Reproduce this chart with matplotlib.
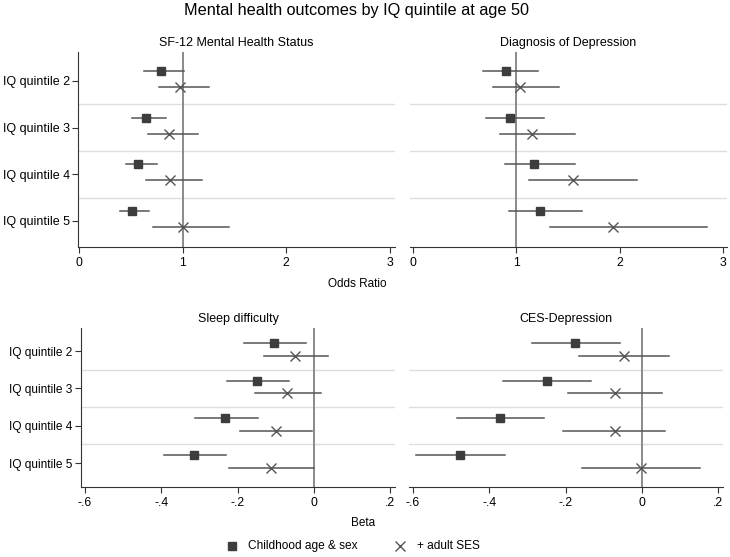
import matplotlib.pyplot as plt
from matplotlib.lines import Line2D

plt.rcParams['font.family'] = ['Liberation Sans', 'DejaVu Sans']

quintiles = ["IQ quintile 2", "IQ quintile 3", "IQ quintile 4", "IQ quintile 5"]

# SF-12 Mental Health Status (odds ratio)
sf12_base = [0.79, 0.65, 0.57, 0.51]
sf12_base_lo = [0.63, 0.51, 0.45, 0.40]
sf12_base_hi = [1.01, 0.84, 0.75, 0.68]
sf12_ses = [0.97, 0.87, 0.88, 1.00]
sf12_ses_lo = [0.77, 0.67, 0.65, 0.71]
sf12_ses_hi = [1.25, 1.15, 1.19, 1.45]

# Diagnosis of Depression (odds ratio)
dep_base = [0.90, 0.94, 1.17, 1.23]
dep_base_lo = [0.68, 0.71, 0.89, 0.93]
dep_base_hi = [1.21, 1.27, 1.57, 1.64]
dep_ses = [1.04, 1.15, 1.55, 1.94]
dep_ses_lo = [0.77, 0.84, 1.12, 1.33]
dep_ses_hi = [1.41, 1.57, 2.17, 2.85]

# Sleep difficulty (beta)
sleep_base = [-0.106, -0.149, -0.232, -0.314]
sleep_base_lo = [-0.184, -0.229, -0.311, -0.394]
sleep_base_hi = [-0.022, -0.066, -0.148, -0.230]
sleep_ses = [-0.049, -0.071, -0.101, -0.112]
sleep_ses_lo = [-0.131, -0.156, -0.195, -0.222]
sleep_ses_hi = [0.037, 0.018, -0.005, 0.0]

# CES-Depression (beta)
ces_base = [-0.175, -0.250, -0.372, -0.477]
ces_base_lo = [-0.288, -0.363, -0.486, -0.591]
ces_base_hi = [-0.059, -0.133, -0.256, -0.359]
ces_ses = [-0.047, -0.072, -0.072, -0.002]
ces_ses_lo = [-0.164, -0.193, -0.206, -0.157]
ces_ses_hi = [0.071, 0.052, 0.059, 0.153]

or_ticks = [0, 1, 2, 3]
or_labels = ["0", "1", "2", "3"]
beta_ticks = [-0.6, -0.4, -0.2, 0, 0.2]
beta_labels = ["-.6", "-.4", "-.2", "0", ".2"]

DARK = "#3d3d3d"
LINE = "#555555"
REF = "#8a8a8a"
SEP = "#dedede"
SQ_MS = 5.8
X_MS = 6.5


def panel(ax, title, base, blo, bhi, ses, slo, shi, ref, xlim, ylim, ticks, labels, show_y, yfs):
    pos = [1, 2, 3, 4]
    yb = [p - 0.21 for p in pos]
    ys = [p + 0.13 for p in pos]
    for i in range(4):
        ax.plot([blo[i], bhi[i]], [yb[i], yb[i]], color=LINE, lw=1.1, zorder=2)
        ax.plot([slo[i], shi[i]], [ys[i], ys[i]], color=LINE, lw=1.1, zorder=2)
    ax.plot(base, yb, ls="none", marker="s", ms=SQ_MS, color=DARK, zorder=3)
    ax.plot(ses, ys, ls="none", marker="x", ms=X_MS, mew=1.0, color=LINE, zorder=3)
    ax.axvline(ref, color=REF, lw=1.4, zorder=1)
    for s in [1.5, 2.5, 3.5]:
        ax.axhline(s, color=SEP, lw=1.0, zorder=0)
    ax.set_xlim(*xlim)
    ax.set_ylim(*ylim)
    ax.set_xticks(ticks)
    ax.set_xticklabels(labels, fontsize=8.8)
    ax.set_title(title, fontsize=9, pad=4)
    for sp in ["top", "right"]:
        ax.spines[sp].set_visible(False)
    ax.spines["bottom"].set_color("#333333")
    ax.spines["left"].set_color("#333333")
    ax.tick_params(axis="x", length=4, width=0.8, color="#333333", pad=3)
    if show_y:
        ax.set_yticks(pos)
        ax.set_yticklabels(quintiles, fontsize=yfs)
        ax.tick_params(axis="y", length=4, width=0.8, color="#333333", pad=2)
    else:
        ax.spines["left"].set_visible(False)
        ax.set_yticks([])


fig = plt.figure(figsize=(7.3, 5.57), dpi=100)
W, H = 730.0, 557.0

ax1 = fig.add_axes([78 / W, 1 - 247 / H, 317 / W, 195 / H])
ax2 = fig.add_axes([410 / W, 1 - 247 / H, 317 / W, 195 / H])
ax3 = fig.add_axes([81 / W, 1 - 487 / H, 314 / W, 159 / H])
ax4 = fig.add_axes([409 / W, 1 - 487 / H, 314 / W, 159 / H])

top_ylim = (4.56, 0.38)
bot_ylim = (4.64, 0.38)
or_xlim = (-0.01, 3.05)
beta_xlim = (-0.6105, 0.212)

panel(ax1, "SF-12 Mental Health Status", sf12_base, sf12_base_lo, sf12_base_hi,
      sf12_ses, sf12_ses_lo, sf12_ses_hi, 1, or_xlim, top_ylim, or_ticks, or_labels, True, 9.0)
panel(ax2, "Diagnosis of Depression", dep_base, dep_base_lo, dep_base_hi,
      dep_ses, dep_ses_lo, dep_ses_hi, 1, (-0.03, 3.04), top_ylim, or_ticks, or_labels, False, 9.0)
panel(ax3, "Sleep difficulty", sleep_base, sleep_base_lo, sleep_base_hi,
      sleep_ses, sleep_ses_lo, sleep_ses_hi, 0, beta_xlim, bot_ylim, beta_ticks, beta_labels, True, 8.6)
panel(ax4, "CES-Depression", ces_base, ces_base_lo, ces_base_hi,
      ces_ses, ces_ses_lo, ces_ses_hi, 0, beta_xlim, bot_ylim, beta_ticks, beta_labels, False, 8.6)

fig.text(357 / W, 1 - 10 / H, "Mental health outcomes by IQ quintile at age 50",
         ha="center", va="center", fontsize=11.7)
fig.text(357 / W, 1 - 284 / H, "Odds Ratio", ha="center", va="center", fontsize=8.5)
fig.text(363 / W, 1 - 523 / H, "Beta", ha="center", va="center", fontsize=8.5)

# legend, drawn by hand to match the reference spacing
ly = 1 - 546 / H
fig.add_artist(Line2D([232 / W], [ly], ls="none", marker="s", ms=SQ_MS, color=DARK,
                      transform=fig.transFigure))
fig.text(248 / W, ly, "Childhood age & sex", ha="left", va="center", fontsize=8.6)
fig.add_artist(Line2D([400 / W], [ly], ls="none", marker="x", ms=X_MS, mew=1.0, color=LINE,
                      transform=fig.transFigure))
fig.text(417 / W, ly, "+ adult SES", ha="left", va="center", fontsize=8.6)

fig.savefig("out.png", dpi=100, facecolor="white")
